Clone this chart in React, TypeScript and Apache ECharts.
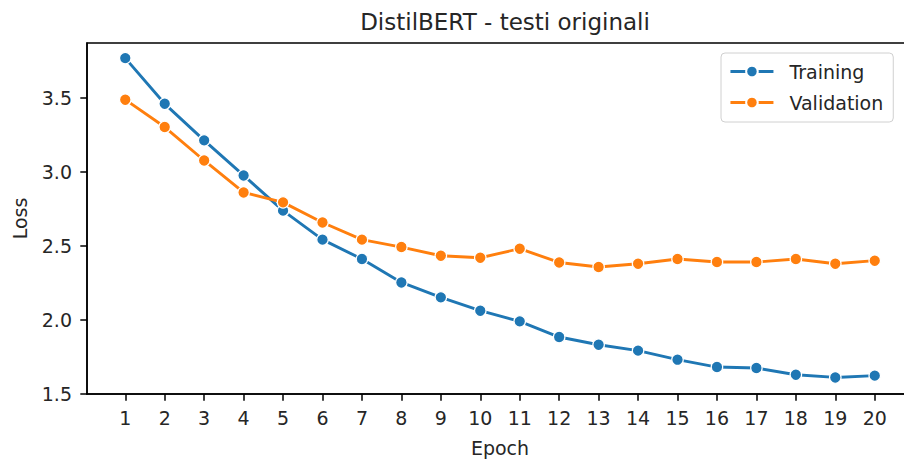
import React, { useEffect, useRef } from "react";
import * as echarts from "echarts";

const epochs = [1, 2, 3, 4, 5, 6, 7, 8, 9, 10, 11, 12, 13, 14, 15, 16, 17, 18, 19, 20];
const trainingLoss = [3.77, 3.461, 3.214, 2.977, 2.739, 2.543, 2.412, 2.254, 2.153, 2.063, 1.991, 1.885, 1.833, 1.793, 1.732, 1.682, 1.676, 1.63, 1.612, 1.624];
const validationLoss = [3.489, 3.304, 3.078, 2.862, 2.795, 2.659, 2.543, 2.493, 2.434, 2.421, 2.482, 2.389, 2.358, 2.38, 2.412, 2.392, 2.392, 2.412, 2.38, 2.401];
const yTicks = [1.5, 2.0, 2.5, 3.0, 3.5];

const FONT = "DejaVu Sans";
const TXT = "#262626";

export default function App() {
  const ref = useRef<HTMLDivElement>(null);
  useEffect(() => {
    if (!ref.current) return;
    const chart = echarts.init(ref.current, null, { renderer: "svg" });
    const mk = (name: string, vals: number[], color: string) => ({
      name,
      type: "line",
      data: epochs.map((e, i) => [e, vals[i]]),
      symbol: "circle",
      symbolSize: 11.5,
      showSymbol: true,
      lineStyle: { color, width: 2.9 },
      itemStyle: { color, borderColor: "#fff", borderWidth: 1.2 },
      emphasis: { disabled: true },
    });
    chart.setOption({
      animation: false,
      backgroundColor: "#fff",
      textStyle: { fontFamily: FONT },
      title: {
        text: "DistilBERT - testi originali",
        left: 500,
        textAlign: "center",
        top: 5,
        textStyle: { fontFamily: FONT, fontSize: 23, fontWeight: "normal", color: TXT },
      },
      legend: {
        orient: "vertical",
        left: 721,
        top: 53,
        padding: [9, 10, 10, 8],
        itemWidth: 43,
        itemHeight: 14.5,
        itemGap: 12,
        borderColor: "#d0d0d0",
        borderWidth: 1,
        borderRadius: 4,
        backgroundColor: "rgba(255,255,255,0.8)",
        lineStyle: { width: 2.9 },
        textStyle: { fontFamily: FONT, fontSize: 19, color: TXT, padding: [0, 0, 0, 11] },
        data: ["Training", "Validation"],
      },
      grid: {
        left: 87,
        top: 43,
        width: 826,
        height: 351,
        show: true,
        borderColor: "#000",
        borderWidth: 1.5,
        containLabel: false,
      },
      xAxis: {
        type: "value",
        min: 0.03,
        max: 20.97,
        name: "Epoch",
        nameLocation: "middle",
        nameGap: 44,
        nameTextStyle: { fontFamily: FONT, fontSize: 19, color: TXT },
        axisLine: { show: true, lineStyle: { color: "#000", width: 1.5 } },
        axisTick: { show: true, length: 6.7, lineStyle: { color: "#000", width: 1.5 }, customValues: epochs },
        axisLabel: { fontFamily: FONT, fontSize: 19, color: TXT, margin: 14, customValues: epochs },
        splitLine: { show: false },
      },
      yAxis: {
        type: "value",
        min: 1.5,
        max: 3.872,
        name: "Loss",
        nameLocation: "middle",
        nameGap: 58,
        nameTextStyle: { fontFamily: FONT, fontSize: 19, color: TXT },
        axisLine: { show: true, lineStyle: { color: "#000", width: 1.5 } },
        axisTick: { show: true, length: 6.7, lineStyle: { color: "#000", width: 1.5 }, customValues: yTicks },
        axisLabel: {
          fontFamily: FONT,
          fontSize: 19,
          color: TXT,
          margin: 15,
          customValues: yTicks,
          formatter: (v: number) => v.toFixed(1),
        },
        splitLine: { show: false },
      },
      series: [mk("Training", trainingLoss, "#1f77b4"), mk("Validation", validationLoss, "#ff7f0e")],
    });
    return () => chart.dispose();
  }, []);
  return (
    <div style={{ position: "fixed", left: 0, top: 0, width: 904, height: 466, overflow: "hidden", background: "#fff" }}>
      <div ref={ref} style={{ width: 930, height: 466 }} />
    </div>
  );
}
